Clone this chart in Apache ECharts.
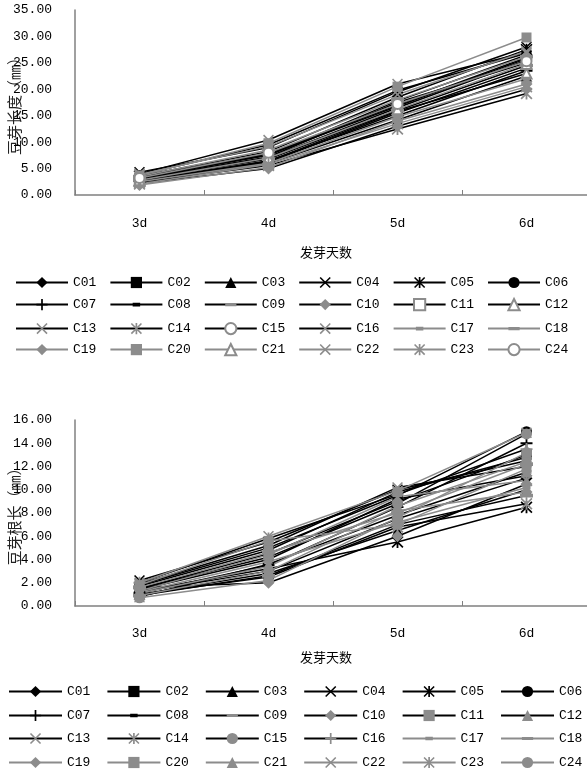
<!DOCTYPE html>
<html>
<head>
<meta charset="utf-8">
<script src="https://cdn.jsdelivr.net/npm/echarts@6/dist/echarts.min.js"></script>
<style>
html, body { margin: 0; padding: 0; background: #fff; }
#chart_len { width: 587px; height: 390px; }
#chart_root { width: 587px; height: 385px; }
</style>
</head>
<body>
<div id="chart_len"></div>
<div id="chart_root"></div>
<script>
// 发芽天数
var days = ['3d', '4d', '5d', '6d'];
var names = ['C01', 'C02', 'C03', 'C04', 'C05', 'C06', 'C07', 'C08', 'C09', 'C10', 'C11', 'C12',
             'C13', 'C14', 'C15', 'C16', 'C17', 'C18', 'C19', 'C20', 'C21', 'C22', 'C23', 'C24'];

// 豆芽长度 (mm), one row per sample, 3d..6d
var lengthValues = [
    [2.8, 6.2, 15.5, 24.0],
    [3.2, 7.5, 17.8, 26.5],
    [2.5, 6.0, 14.2, 22.5],
    [4.3, 9.0, 19.5, 28.0],
    [3.6, 8.2, 18.5, 27.5],
    [3.0, 7.0, 16.5, 25.5],
    [2.6, 6.5, 15.0, 23.5],
    [3.4, 7.8, 17.0, 26.0],
    [2.9, 6.8, 16.0, 24.5],
    [2.2, 5.0, 13.0, 20.0],
    [3.1, 7.2, 17.5, 25.0],
    [2.7, 6.4, 15.8, 23.0],
    [4.0, 10.4, 21.0, 27.0],
    [2.4, 5.6, 12.5, 19.2],
    [3.3, 7.6, 16.8, 25.8],
    [3.8, 9.5, 19.8, 26.8],
    [2.5, 6.0, 14.8, 22.0],
    [3.5, 8.5, 18.0, 26.2],
    [1.9, 5.2, 14.0, 21.0],
    [3.7, 9.8, 20.5, 29.8],
    [2.8, 7.0, 16.2, 24.8],
    [3.9, 9.2, 19.0, 27.2],
    [2.1, 5.8, 13.5, 20.5],
    [3.2, 8.0, 17.2, 25.3]
];

// 豆芽根长 (mm)
var rootValues = [
    [1.2, 3.0, 7.5, 11.0],
    [1.5, 4.5, 9.0, 13.0],
    [1.0, 2.8, 6.5, 10.0],
    [2.2, 5.5, 10.0, 12.5],
    [1.3, 3.2, 5.5, 8.5],
    [1.8, 5.0, 9.5, 15.0],
    [1.1, 3.5, 8.5, 14.0],
    [1.4, 4.0, 9.2, 11.2],
    [0.9, 2.6, 7.0, 9.5],
    [1.6, 2.0, 6.0, 10.5],
    [1.7, 4.8, 9.8, 12.8],
    [0.8, 3.6, 7.8, 11.5],
    [1.9, 5.2, 10.2, 12.0],
    [1.0, 2.5, 6.8, 8.8],
    [1.5, 4.2, 8.8, 14.8],
    [2.0, 5.8, 9.6, 13.5],
    [1.2, 3.8, 7.2, 10.2],
    [1.6, 4.6, 8.0, 12.2],
    [0.9, 3.0, 8.2, 9.8],
    [1.8, 5.6, 7.0, 11.8],
    [1.1, 3.4, 8.6, 12.4],
    [2.0, 6.0, 9.9, 14.9],
    [1.3, 4.4, 9.4, 10.8],
    [0.7, 2.2, 7.6, 13.2]
];

var lenAxis = { min: 0, max: 35, interval: 5 };
var rootAxis = { min: 0, max: 16, interval: 2 };

// excel-like markers
var BLACK = '#000000', GRAY = '#8c8c8c';
var SYM = {
    diamond: { s: 'diamond', size: 12 },
    rect: { s: 'rect', size: 10 },
    triangle: { s: 'triangle', size: 11 },
    circle: { s: 'circle', size: 11 },
    emptyRect: { s: 'emptyRect', size: 9 },
    emptyTriangle: { s: 'emptyTriangle', size: 10 },
    emptyCircle: { s: 'emptyCircle', size: 10 },
    cross: { s: 'path://M0,2 L2,0 L20,18 L18,20 Z M18,0 L20,2 L2,20 L0,18 Z', size: 11 },
    star: { s: 'path://M0,2 L2,0 L20,18 L18,20 Z M18,0 L20,2 L2,20 L0,18 Z M8.5,0 L11.5,0 L11.5,20 L8.5,20 Z', size: 12 },
    plus: { s: 'path://M8.5,0 L11.5,0 L11.5,20 L8.5,20 Z M0,8.5 L20,8.5 L20,11.5 L0,11.5 Z', size: 12 },
    // square bounding box (zero-area corners) so the dash keeps its shape in the legend too
    dash: { s: 'path://M0,0 L0,0 Z M12,12 L12,12 Z M2,4 L10,4 L10,8 L2,8 Z', size: 12 },
    bar: { s: 'path://M0,0 L0,0 Z M14,14 L14,14 Z M0,5 L14,5 L14,9 L0,9 Z', size: 13 }
};
// [symbol, marker colour, line colour] per sample
var lenStyles = [
    ['diamond', BLACK, BLACK], ['rect', BLACK, BLACK], ['triangle', BLACK, BLACK], ['cross', BLACK, BLACK],
    ['star', BLACK, BLACK], ['circle', BLACK, BLACK], ['plus', BLACK, BLACK], ['dash', BLACK, BLACK],
    ['bar', GRAY, BLACK], ['diamond', GRAY, BLACK], ['emptyRect', GRAY, BLACK], ['emptyTriangle', GRAY, BLACK],
    ['cross', GRAY, BLACK], ['star', GRAY, BLACK], ['emptyCircle', GRAY, BLACK], ['cross', GRAY, BLACK],
    ['dash', GRAY, GRAY], ['bar', GRAY, GRAY], ['diamond', GRAY, GRAY], ['rect', GRAY, GRAY],
    ['emptyTriangle', GRAY, GRAY], ['cross', GRAY, GRAY], ['star', GRAY, GRAY], ['emptyCircle', GRAY, GRAY]
];
var rootStyles = [
    ['diamond', BLACK, BLACK], ['rect', BLACK, BLACK], ['triangle', BLACK, BLACK], ['cross', BLACK, BLACK],
    ['star', BLACK, BLACK], ['circle', BLACK, BLACK], ['plus', BLACK, BLACK], ['dash', BLACK, BLACK],
    ['bar', GRAY, BLACK], ['diamond', GRAY, BLACK], ['rect', GRAY, BLACK], ['triangle', GRAY, BLACK],
    ['cross', GRAY, BLACK], ['star', GRAY, BLACK], ['circle', GRAY, BLACK], ['plus', GRAY, BLACK],
    ['dash', GRAY, GRAY], ['bar', GRAY, GRAY], ['diamond', GRAY, GRAY], ['rect', GRAY, GRAY],
    ['triangle', GRAY, GRAY], ['cross', GRAY, GRAY], ['star', GRAY, GRAY], ['circle', GRAY, GRAY]
];

var NUM_FONT = 'Liberation Mono';
var CJK_FONT = '"Noto Sans CJK SC"';

function build(domId, values, styles, axis, yName, cfg) {
    var chart = echarts.init(document.getElementById(domId));
    var series = values.map(function (row, i) {
        var st = styles[i], sym = SYM[st[0]];
        return {
            name: names[i],
            type: 'line',
            data: row,
            symbol: sym.s,
            symbolSize: sym.size,
            symbolKeepAspect: true,
            itemStyle: { color: st[1], borderWidth: st[0].indexOf('empty') === 0 ? 1.5 : 0 },
            lineStyle: { color: st[2], width: 1.5 },
            emphasis: { disabled: true }
        };
    });
    var legends = [];
    for (var r = 0; r < 4; r++) {
        legends.push({
            top: cfg.legendTops[r] - 7,
            left: cfg.legendLeft,
            width: 620,
            orient: 'horizontal',
            padding: 0,
            itemGap: cfg.legendGap,
            itemWidth: cfg.legendItemWidth,
            itemHeight: 14,
            selectedMode: false,
            lineStyle: { width: 2 },
            textStyle: { fontFamily: NUM_FONT, fontSize: 13, color: '#000' },
            data: names.slice(r * 6, r * 6 + 6)
        });
    }
    chart.setOption({
        animation: false,
        backgroundColor: '#fff',
        grid: { left: 75, top: cfg.gridTop, width: 516, height: cfg.gridHeight, outerBoundsMode: 'none' },
        legend: legends,
        xAxis: {
            type: 'category',
            data: days,
            boundaryGap: true,
            name: '发芽天数',
            nameLocation: 'middle',
            nameGap: cfg.xNameGap,
            nameMoveOverlap: false,
            nameTextStyle: { fontFamily: CJK_FONT, fontSize: 13, color: '#000', padding: [0, 14, 0, 0] },
            axisLine: { lineStyle: { color: '#808080', width: 1.5 } },
            axisTick: { show: true, inside: true, length: 5, lineStyle: { color: '#808080' } },
            axisLabel: { margin: cfg.xLabelMargin, fontFamily: NUM_FONT, fontSize: 13, color: '#000' },
            splitLine: { show: false }
        },
        yAxis: {
            type: 'value',
            min: axis.min,
            max: axis.max,
            interval: axis.interval,
            name: yName,
            nameLocation: 'middle',
            nameRotate: 90,
            nameGap: 53,
            nameMoveOverlap: false,
            nameTextStyle: { fontFamily: CJK_FONT, fontSize: 15, color: '#222' },
            axisLine: { show: true, lineStyle: { color: '#808080', width: 1.5 } },
            axisTick: { show: false },
            axisLabel: {
                margin: 23,
                fontFamily: NUM_FONT,
                fontSize: 13,
                color: '#000',
                formatter: function (v) { return v.toFixed(2); }
            },
            splitLine: { show: false }
        },
        series: series
    });
}

build('chart_len', lengthValues, lenStyles, lenAxis, '豆芽长度（㎜）', {
    gridTop: 10, gridHeight: 185, xLabelMargin: 22, xNameGap: 51,
    legendTops: [283, 305, 329, 350], legendLeft: 15, legendGap: 13, legendItemWidth: 52
});
build('chart_root', rootValues, rootStyles, rootAxis, '豆芽根长（㎜）', {
    gridTop: 30, gridHeight: 186, xLabelMargin: 21, xNameGap: 45,
    legendTops: [302, 326, 349, 373], legendLeft: 8, legendGap: 16, legendItemWidth: 53
});
</script>
</body>
</html>
